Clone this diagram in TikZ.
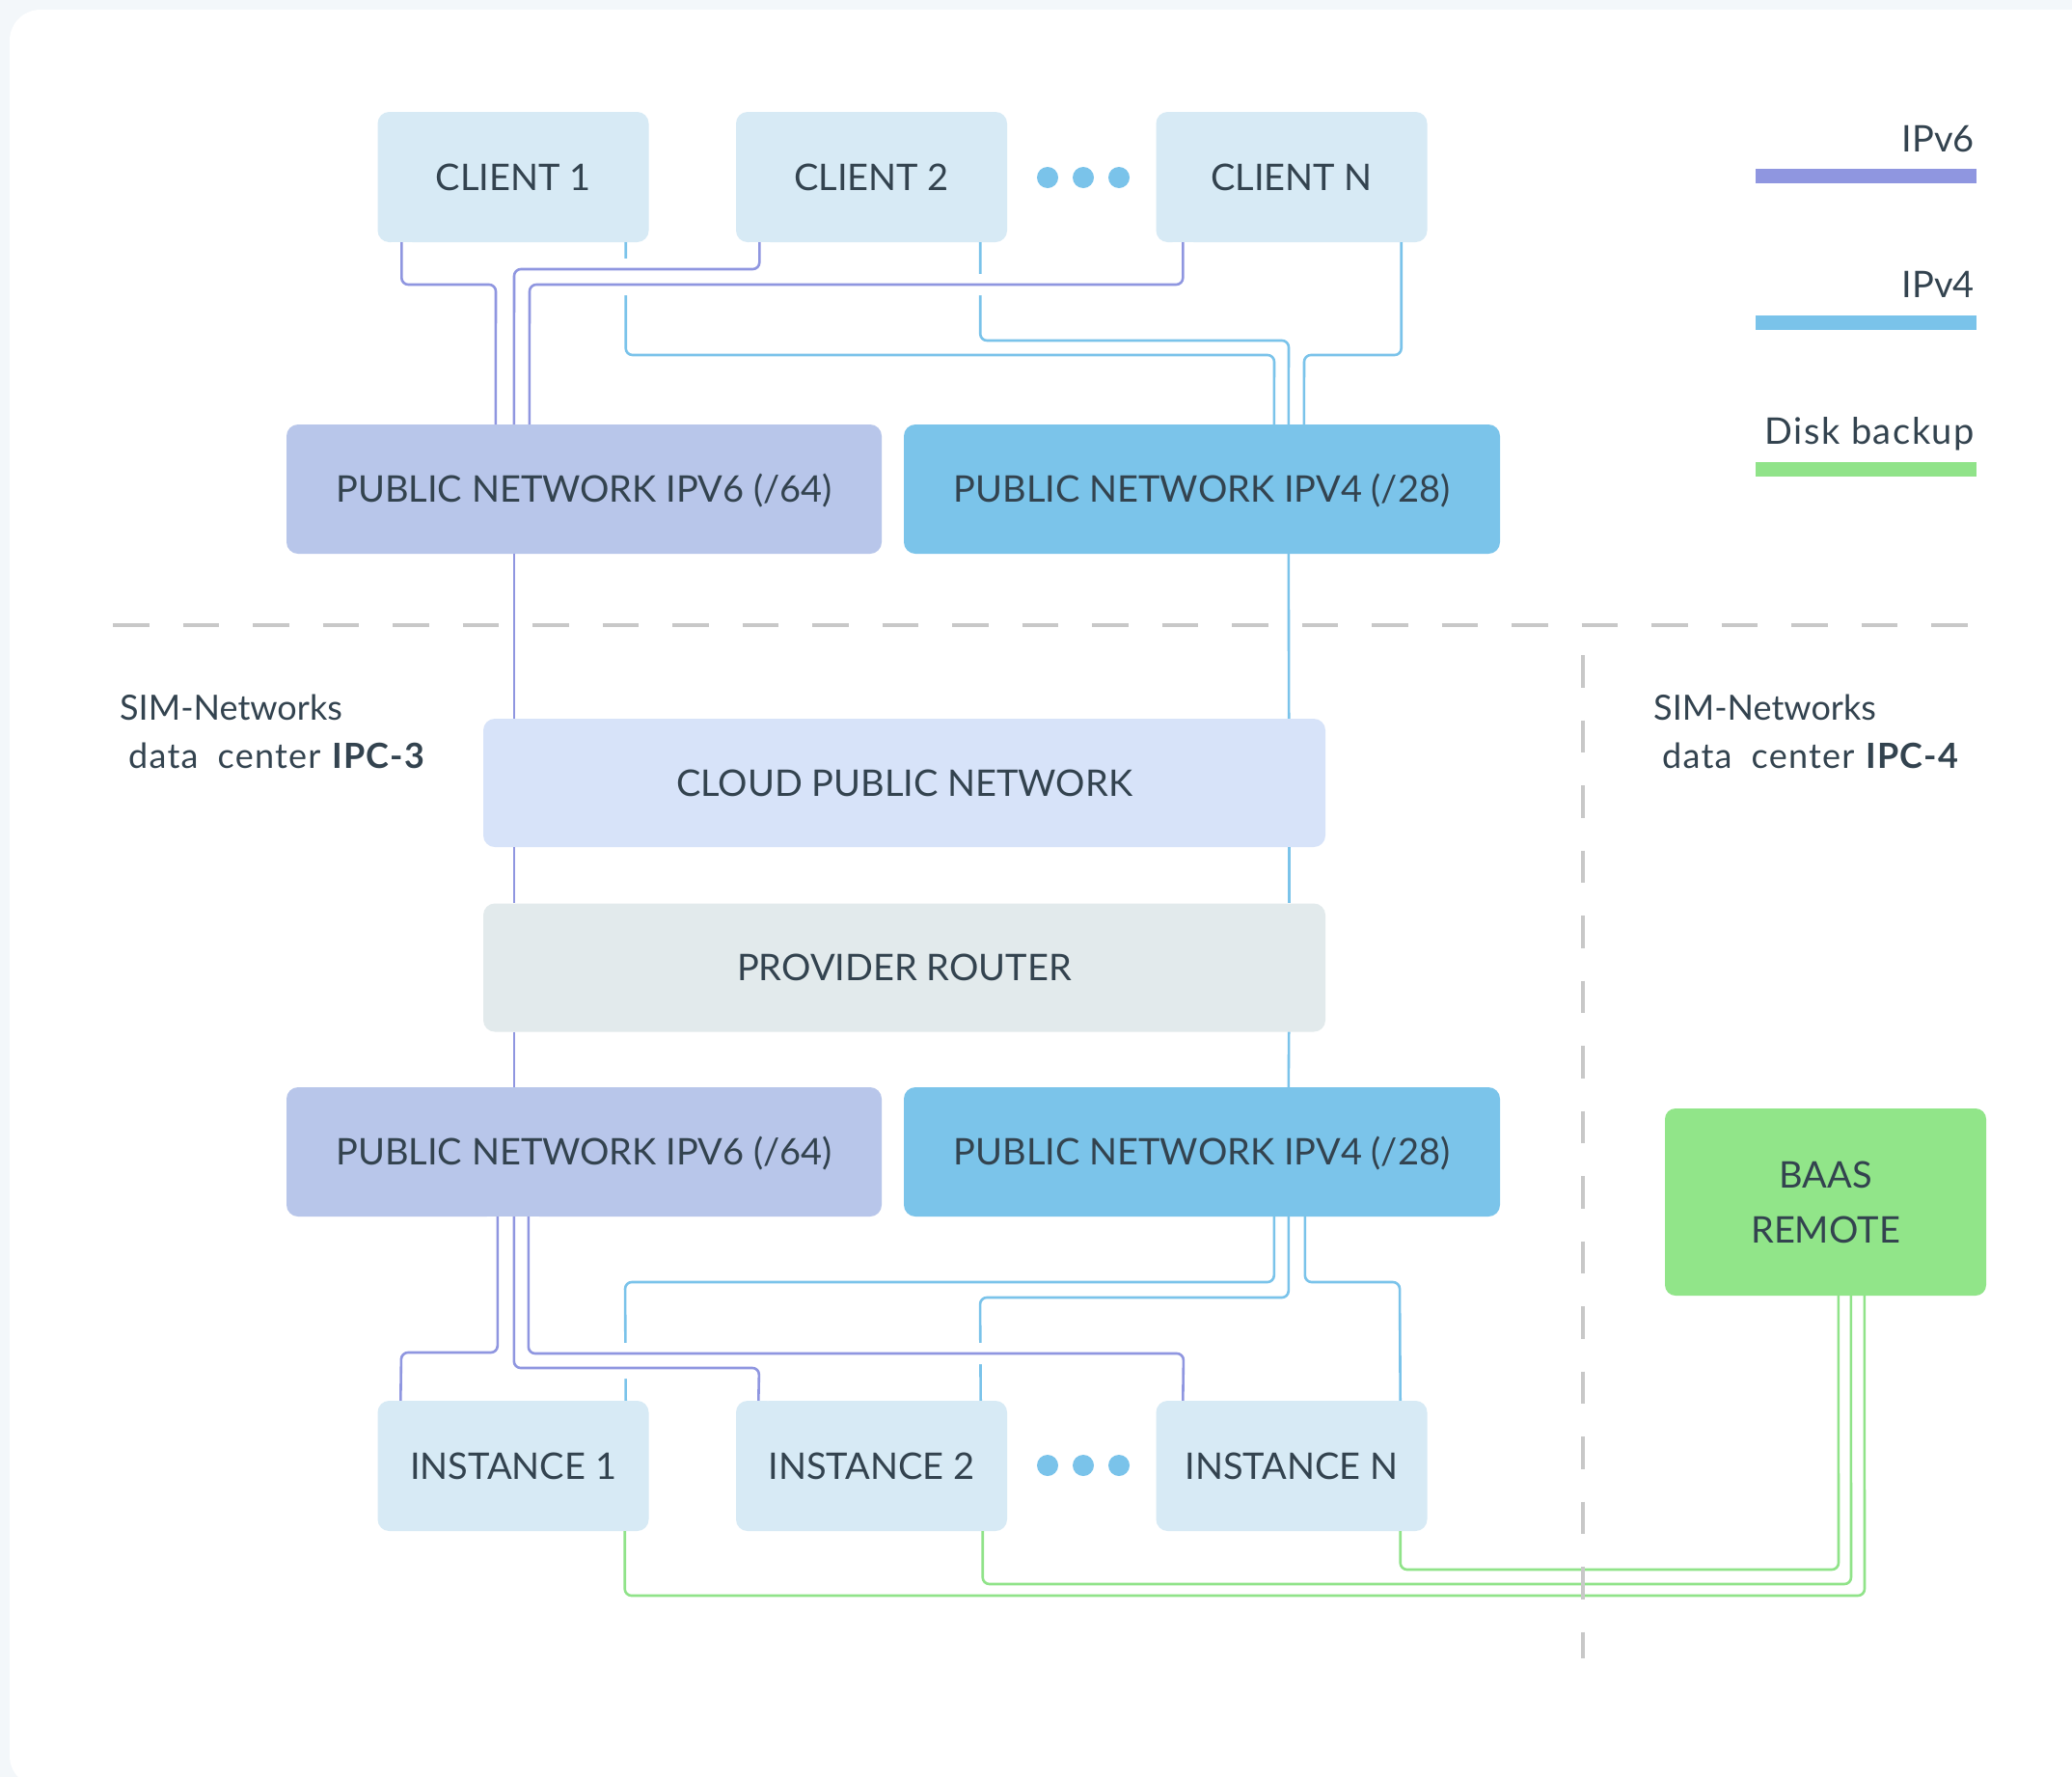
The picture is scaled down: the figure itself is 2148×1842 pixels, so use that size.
\documentclass[tikz,border=0pt]{standalone}
\usepackage{fontspec}
\setmainfont{Lato}
\usetikzlibrary{calc}

\definecolor{ink}{HTML}{33434F}
\definecolor{pagebg}{HTML}{F3F7FA}
\definecolor{hostfill}{HTML}{D7EAF5}
\definecolor{sixfill}{HTML}{B8C6EA}
\definecolor{fourfill}{HTML}{7BC4EA}
\definecolor{cloudfill}{HTML}{D7E3F9}
\definecolor{routerfill}{HTML}{E2EAEC}
\definecolor{baasfill}{HTML}{91E589}
\definecolor{sixline}{HTML}{8F96E0}
\definecolor{fourline}{HTML}{7AC3EA}
\definecolor{backline}{HTML}{90E389}
\definecolor{divider}{HTML}{C8C8C8}

\begin{document}
\begin{tikzpicture}[x=1pt,y=-1pt,
  box/.style={rectangle, rounded corners=12pt, inner sep=0pt, text=ink,
    font=\fontsize{38}{46}\selectfont, text height=27.3pt, text depth=0pt},
  hostbox/.style={box, fill=hostfill, minimum width=281pt, minimum height=135pt},
  sixbox/.style={box, fill=sixfill, minimum width=617pt, minimum height=134pt},
  fourbox/.style={box, fill=fourfill, minimum width=618pt, minimum height=134pt},
  widebox/.style={box, minimum width=873pt, minimum height=133pt},
  link/.style={line width=2.6pt, rounded corners=7pt},
  sixlink/.style={link, draw=sixline, preaction={draw=white, line width=22pt}},
  fourlink/.style={link, draw=fourline},
  backlink/.style={link, draw=backline},
  dot/.style={fill=fourline},
  legendbar/.style={fill=#1},
  legendtext/.style={anchor=base east, inner sep=0pt, text=ink, font=\fontsize{38}{46}\selectfont},
  sitetext/.style={anchor=base west, inner sep=0pt, text=ink, font=\fontsize{36}{44}\selectfont},
  divline/.style={draw=divider, line width=4pt}
]
\useasboundingbox (0,0) rectangle (2148,1842);

% page and card
\fill[pagebg] (0,0) rectangle (2148,1842);
\fill[white, rounded corners=32pt] (10,10) rectangle (2180,1852);

% nodes
\node[hostbox] (c1) at (532,183.5) {CLIENT 1};
\node[hostbox] (c2) at (903.5,183.5) {CLIENT 2};
\node[hostbox] (cN) at (1339,183.5) {CLIENT N};

\node[sixbox]  (pub6t) at (605.5,507) {PUBLIC NETWORK IPV6 (/64)};
\node[fourbox] (pub4t) at (1246,507) {PUBLIC NETWORK IPV4 (/28)};

\node[widebox, fill=cloudfill]  (cloud)  at (937.5,811.5) {CLOUD PUBLIC NETWORK};
\node[widebox, fill=routerfill] (router) at (937.5,1003) {PROVIDER ROUTER};

\node[sixbox]  (pub6b) at (605.5,1194) {PUBLIC NETWORK IPV6 (/64)};
\node[fourbox] (pub4b) at (1246,1194) {PUBLIC NETWORK IPV4 (/28)};

\node[hostbox] (i1) at (532,1519.5) {INSTANCE 1};
\node[hostbox] (i2) at (903.5,1519.5) {INSTANCE 2};
\node[hostbox] (iN) at (1339,1519.5) {INSTANCE N};

\node[box, fill=baasfill, minimum width=333pt, minimum height=194pt,
  rounded corners=11pt, text height=, text depth=, align=center,
  font=\fontsize{38}{57}\selectfont] (baas) at (1892.5,1246) {BAAS\\REMOTE};

% ellipsis dots
\foreach \x in {1086,1123,1160} {
  \fill[dot] (\x,184) circle (11);
  \fill[dot] (\x,1519) circle (11);
}

% IPv4 links, clients to upper network
\draw[fourlink] ($(c1.south east)+(-24,0)$) |- (1321,368) -- ($(pub4t.north west)+(384,0)$);
\draw[fourlink] ($(c2.south east)+(-28,0)$) |- (1336,353) -- ($(pub4t.north west)+(399,0)$);
\draw[fourlink] ($(cN.south east)+(-27,0)$) |- (1352,368) -- ($(pub4t.north west)+(415,0)$);

% IPv6 links, clients to upper network
\draw[sixlink] ($(c1.south west)+(25,0)$) |- (514,295) -- ($(pub6t.north west)+(217,0)$);
\draw[sixlink] ($(c2.south west)+(24.5,0)$) |- (533,279) -- ($(pub6t.north west)+(236,0)$);
\draw[sixlink] ($(cN.south west)+(28,0)$) |- (549,295) -- ($(pub6t.north west)+(252,0)$);

% trunk through the cloud network and the router
\draw[link, draw=sixline] ($(pub6t.south west)+(236,0)$) -- ($(cloud.north west)+(32,0)$);
\draw[link, draw=sixline] ($(cloud.south west)+(32,0)$) -- ($(router.north west)+(32,0)$);
\draw[link, draw=sixline] ($(router.south west)+(32,0)$) -- ($(pub6b.north west)+(236,0)$);
\draw[fourlink] ($(pub4t.south west)+(399,0)$) -- ($(cloud.north east)+(-38,0)$);
\draw[fourlink] ($(cloud.south east)+(-38,0)$) -- ($(router.north east)+(-38,0)$);
\draw[fourlink] ($(router.south east)+(-38,0)$) -- ($(pub4b.north west)+(399,0)$);

% IPv4 links, lower network to instances
\draw[fourlink] ($(pub4b.south west)+(384,0)$) |- (648,1329) -- ($(i1.north east)+(-24,0)$);
\draw[fourlink] ($(pub4b.south west)+(399,0)$) |- (1016,1345) -- ($(i2.north east)+(-27.5,0)$);
\draw[fourlink] ($(pub4b.south west)+(416,0)$) |- (1451,1329) -- ($(iN.north east)+(-28,0)$);

% IPv6 links, lower network to instances
\draw[sixlink] ($(pub6b.south west)+(219,0)$) |- (416,1402) -- ($(i1.north west)+(24,0)$);
\draw[sixlink] ($(pub6b.south west)+(236,0)$) |- (787,1418) -- ($(i2.north west)+(23.5,0)$);
\draw[sixlink] ($(pub6b.south west)+(251,0)$) |- (1227,1403) -- ($(iN.north west)+(28,0)$);

% disk backup links to the remote site
\draw[backlink] ($(i1.south east)+(-25,0)$) |- (1933,1654) -- ($(baas.south west)+(207,0)$);
\draw[backlink] ($(i2.south east)+(-25.5,0)$) |- (1919,1642) -- ($(baas.south west)+(193,0)$);
\draw[backlink] ($(iN.south east)+(-28,0)$) |- (1906,1627) -- ($(baas.south west)+(180,0)$);

% site borders
\draw[divline, dash pattern=on 37.5pt off 35pt] (117,648) -- (2049,648);
\draw[divline, line width=3.5pt, dash pattern=on 33.5pt off 34pt] (1641,679) -- (1641,1719);

% site captions
\node[sitetext] (ipc3a) at (124,746) {SIM-Networks};
\node[sitetext] (ipc3b) at (133,796) {\addfontfeature{LetterSpace=3.5}data\hspace{20pt}center \textbf{IPC-3}};
\node[sitetext] (ipc4a) at (1714,746) {SIM-Networks};
\node[sitetext] (ipc4b) at (1723,796) {\addfontfeature{LetterSpace=3.5}data\hspace{20pt}center \textbf{IPC-4}};

% legend
\node[legendtext] (lg6) at (2047,157) {IPv6};
\fill[legendbar=sixline] (1820,175) rectangle (2049,190);
\node[legendtext] (lg4) at (2047,308) {IPv4};
\fill[legendbar=fourline] (1820,327) rectangle (2049,342);
\node[legendtext] (lgb) at (2047,460) {\addfontfeature{LetterSpace=4}Disk backup};
\fill[legendbar=backline] (1820,479) rectangle (2049,494);
\end{tikzpicture}
\end{document}
